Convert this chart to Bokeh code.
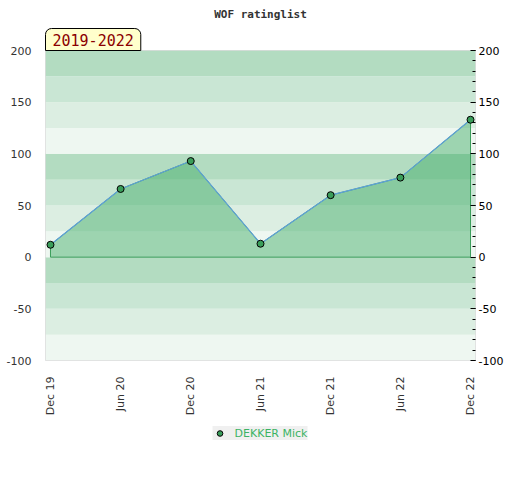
import pandas as pd
from bokeh.plotting import figure
from bokeh.layouts import column
from bokeh.models import (Range1d, LinearAxis, FixedTicker, DatetimeTickFormatter,
                          BoxAnnotation, Title, Legend, PrintfTickFormatter)
from bokeh.embed import file_html
from bokeh.resources import INLINE
from math import pi

TITLE = "WOF ratinglist"
PERIOD = "2019-2022"
PLAYER = "DEKKER Mick"
DATES = ["2019-12-01", "2020-06-01", "2020-12-01", "2021-06-01",
         "2021-12-01", "2022-06-01", "2022-12-01"]
RATINGS = [12, 66, 93, 13, 60, 77, 133]
Y_TICKS = [-100, -50, 0, 50, 100, 150, 200]
BAND_EDGES = [-100, -75, -50, -25, 0, 25, 50, 75, 100, 125, 150, 175, 200]
BAND_COLORS = ["#eef7f1", "#dceee2", "#c9e6d4", "#b3dcc1"]

MARKER = dict(size=7, fill_color="#3a9d5a", line_color="black", line_width=1)

dates = pd.to_datetime(DATES)
tick_ms = [d.value // 10**6 for d in dates]
pad = pd.Timedelta(days=13)

p = figure(width=512, height=418, x_axis_type="datetime",
           x_range=Range1d(dates[0] - pad, dates[-1] + pad),
           y_range=Range1d(-100, 200),
           output_backend="svg", toolbar_location=None,
           min_border_left=45, min_border_right=37, min_border_top=50,
           min_border_bottom=58)

p.title.text = TITLE
p.title.align = "center"
p.title.text_font = "DejaVu Sans Mono"
p.title.text_font_size = "11px"
p.title.text_font_style = "bold"
p.title.text_color = "#333333"
p.title.standoff = 11

p.outline_line_color = "#dddddd"
p.background_fill_color = "white"
p.xgrid.visible = False
p.ygrid.visible = False

# bands
for i in range(len(BAND_EDGES) - 1):
    p.add_layout(BoxAnnotation(bottom=BAND_EDGES[i], top=BAND_EDGES[i + 1],
                               fill_color=BAND_COLORS[i % 4], fill_alpha=1.0,
                               line_color=None, level="underlay"))

# area
xs = [dates[0]] + list(dates) + [dates[-1]]
ys = [0] + RATINGS + [0]
p.patch(xs, ys, fill_color="#39a862", fill_alpha=0.45,
        line_color="#3a9d5a", line_width=1)
p.line(dates, RATINGS, line_color="#5fa0d8", line_width=1.2)
p.scatter(dates, RATINGS, **MARKER)

# x axis
xa = p.xaxis[0]
xa.ticker = FixedTicker(ticks=tick_ms)
xa.formatter = DatetimeTickFormatter(months="%b %y", days="%b %y")
xa.major_label_orientation = pi / 2
xa.axis_line_color = None
xa.major_tick_line_color = None
xa.minor_tick_line_color = None
xa.major_label_text_font = "DejaVu Sans"
xa.major_label_text_font_size = "11px"
xa.major_label_text_color = "#333333"
xa.major_label_standoff = 10

# left y axis
ya = p.yaxis[0]
ya.ticker = FixedTicker(ticks=Y_TICKS)
ya.formatter = PrintfTickFormatter(format="%d")
ya.axis_line_color = None
ya.major_tick_line_color = None
ya.minor_tick_line_color = None
ya.major_label_text_font = "DejaVu Sans"
ya.major_label_text_font_size = "11px"
ya.major_label_text_color = "#333333"
ya.major_label_standoff = 8

# right y axis
ra = LinearAxis(ticker=FixedTicker(ticks=Y_TICKS,
                                   minor_ticks=list(range(-100, 201, 10))),
                formatter=PrintfTickFormatter(format="%d"))
ra.axis_line_color = None
ra.major_tick_in = 5
ra.major_tick_out = 0
ra.minor_tick_in = 3
ra.minor_tick_out = 0
ra.major_tick_line_color = "black"
ra.minor_tick_line_color = "black"
ra.major_label_text_font = "DejaVu Sans"
ra.major_label_text_font_size = "11px"
ra.major_label_text_color = "black"
ra.major_label_standoff = 3
p.add_layout(ra, "right")

# period label
period = Title(text=PERIOD, align="left", text_font="DejaVu Sans Mono",
               text_font_size="15px", text_font_style="normal",
               text_color="#8b0000", background_fill_color="#ffffcc",
               border_line_color="black", border_line_width=1,
               padding=(7, 5), border_radius=(6, 6, 0, 0), standoff=0,
               offset=0)
p.add_layout(period, "above")

# legend strip (its scatter uses the same data; the points fall outside its range)
q = figure(width=512, height=54, x_range=Range1d(0, 1), y_range=Range1d(0, 1),
           output_backend="svg", toolbar_location=None, min_border=0)
q.axis.visible = False
q.grid.visible = False
q.outline_line_color = None
proxy = q.scatter(dates, RATINGS, **MARKER)
legend = Legend(items=[(PLAYER, [proxy])], orientation="horizontal",
                location="top_center", background_fill_color="#f0f0f0",
                background_fill_alpha=1.0, border_line_color=None,
                label_text_color="#3cb364", label_text_font="DejaVu Sans",
                label_text_font_size="11px", glyph_width=14, glyph_height=14,
                label_height=14, label_standoff=8,
                margin=8, padding=4, spacing=0)
q.add_layout(legend)

open("out.html", "w").write(file_html(column(p, q, spacing=0), INLINE))
